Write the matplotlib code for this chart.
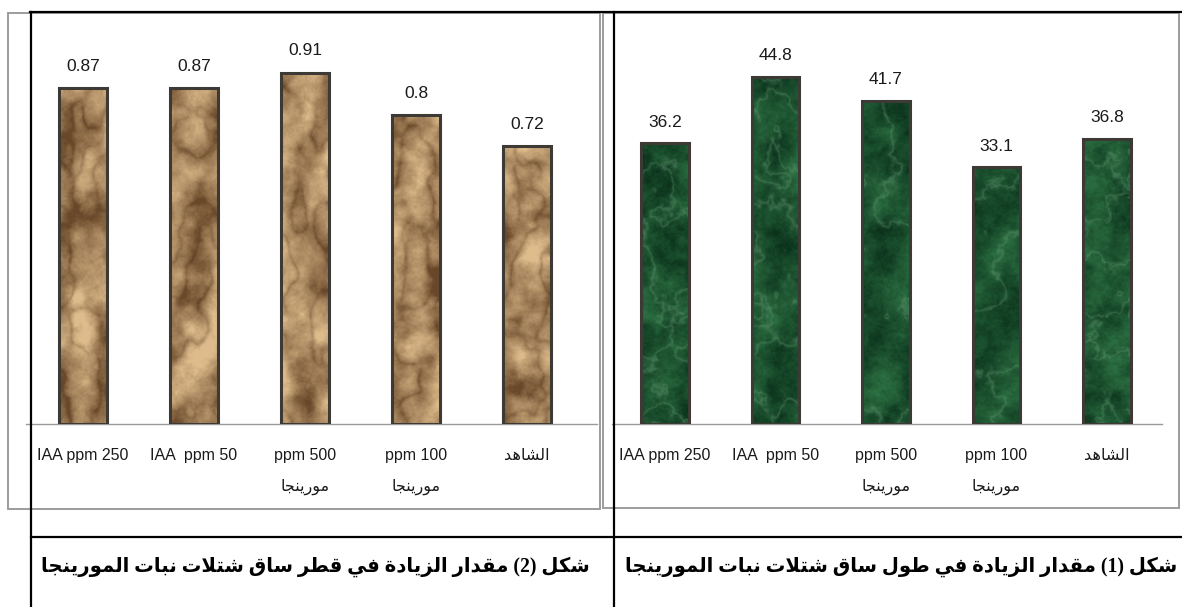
import numpy as np
import matplotlib
matplotlib.use("Agg")
import matplotlib.pyplot as plt
from matplotlib.patches import Rectangle
from matplotlib.lines import Line2D

# ---- data ----
categories = ["IAA ppm 250", "IAA  ppm 50", "ppm 500\nمورينجا", "ppm 100\nمورينجا", "الشاهد"]
diameter_gain = [0.87, 0.87, 0.91, 0.8, 0.72]      # shape (2): stem diameter
length_gain = [36.2, 44.8, 41.7, 33.1, 36.8]       # shape (1): stem length
title_left = "شكل (2) مقدار الزيادة في قطر ساق شتلات نبات المورينجا"
title_right = "شكل (1) مقدار الزيادة في طول ساق شتلات نبات المورينجا"

W, H = 1182, 607
LABEL_FONT = ["Liberation Sans Narrow", "Liberation Sans", "DejaVu Sans"]
SERIF_BOLD = ["Liberation Serif", "DejaVu Sans"]

# ---- minimal Arabic shaping (presentation forms B) + RTL ordering ----
FORMS = {
    "ا": ("\uFE8D", "\uFE8E", None, None),
    "ب": ("\uFE8F", "\uFE90", "\uFE91", "\uFE92"),
    "ة": ("\uFE93", "\uFE94", None, None),
    "ت": ("\uFE95", "\uFE96", "\uFE97", "\uFE98"),
    "ج": ("\uFE9D", "\uFE9E", "\uFE9F", "\uFEA0"),
    "د": ("\uFEA9", "\uFEAA", None, None),
    "ر": ("\uFEAD", "\uFEAE", None, None),
    "ز": ("\uFEAF", "\uFEB0", None, None),
    "س": ("\uFEB1", "\uFEB2", "\uFEB3", "\uFEB4"),
    "ش": ("\uFEB5", "\uFEB6", "\uFEB7", "\uFEB8"),
    "ط": ("\uFEC1", "\uFEC2", "\uFEC3", "\uFEC4"),
    "ف": ("\uFED1", "\uFED2", "\uFED3", "\uFED4"),
    "ق": ("\uFED5", "\uFED6", "\uFED7", "\uFED8"),
    "ك": ("\uFED9", "\uFEDA", "\uFEDB", "\uFEDC"),
    "ل": ("\uFEDD", "\uFEDE", "\uFEDF", "\uFEE0"),
    "م": ("\uFEE1", "\uFEE2", "\uFEE3", "\uFEE4"),
    "ن": ("\uFEE5", "\uFEE6", "\uFEE7", "\uFEE8"),
    "ه": ("\uFEE9", "\uFEEA", "\uFEEB", "\uFEEC"),
    "و": ("\uFEED", "\uFEEE", None, None),
    "ي": ("\uFEF1", "\uFEF2", "\uFEF3", "\uFEF4"),
}


def shape_word(word):
    tokens = []
    i = 0
    while i < len(word):
        if word[i] == "ل" and i + 1 < len(word) and word[i + 1] == "ا":
            tokens.append("LA")
            i += 2
        else:
            tokens.append(word[i])
            i += 1
    out = []
    for k, t in enumerate(tokens):
        prev = tokens[k - 1] if k > 0 else None
        nxt = tokens[k + 1] if k + 1 < len(tokens) else None
        joined_prev = prev in FORMS and FORMS[prev][2] is not None
        if t == "LA":
            out.append("\uFEFC" if joined_prev else "\uFEFB")
            continue
        if t not in FORMS:
            out.append(t)
            continue
        iso, fin, ini, med = FORMS[t]
        joined_next = ini is not None and (nxt == "LA" or nxt in FORMS)
        if joined_prev and joined_next:
            out.append(med)
        elif joined_prev:
            out.append(fin)
        elif joined_next:
            out.append(ini)
        else:
            out.append(iso)
    return "".join(reversed(out))


def is_arabic(s):
    return any("\u0600" <= c <= "\u06FF" for c in s)


def rtl(line):
    if not is_arabic(line):
        return line
    words = line.split(" ")
    return " ".join(shape_word(w) if is_arabic(w) else w for w in reversed(words))


def prep(label):
    return "\n".join(rtl(l) for l in label.split("\n"))


# ---- bar textures ----
def value_noise(rng, h, w, gh, gw):
    g = rng.random((gh + 1, gw + 1))
    yi = np.linspace(0, gh, h, endpoint=False)
    xi = np.linspace(0, gw, w, endpoint=False)
    y0 = np.floor(yi).astype(int)
    x0 = np.floor(xi).astype(int)
    ty = (yi - y0)[:, None]
    tx = (xi - x0)[None, :]
    ty = ty * ty * (3 - 2 * ty)
    tx = tx * tx * (3 - 2 * tx)
    a = g[np.ix_(y0, x0)]
    b = g[np.ix_(y0, x0 + 1)]
    c = g[np.ix_(y0 + 1, x0)]
    d = g[np.ix_(y0 + 1, x0 + 1)]
    return a * (1 - tx) * (1 - ty) + b * tx * (1 - ty) + c * (1 - tx) * ty + d * tx * ty


def fbm(rng, h, w, octaves=((6, 1), (12, 2), (24, 4), (48, 8), (96, 16)), gain=0.55):
    total = np.zeros((h, w))
    amp = 1.0
    for gh, gw in octaves:
        total += amp * value_noise(rng, h, w, gh, gw)
        amp *= gain
    total -= total.min()
    return total / total.max()


def paper_texture(rng, h=360, w=50):
    n = fbm(rng, h, w, ((8, 2), (16, 3), (32, 5), (64, 9), (128, 18)), 0.6)
    ridge = 1 - np.abs(2 * fbm(rng, h, w, ((7, 2), (14, 3), (28, 5))) - 1)
    grain = value_noise(rng, h, w, 180, 25)
    dark = np.array([105, 72, 42]) / 255
    light = np.array([222, 188, 140]) / 255
    t = np.clip(0.12 + 1.05 * n - 0.4 * ridge ** 4 + 0.12 * (grain - 0.5), 0, 1)[..., None]
    return dark * (1 - t) + light * t


def marble_texture(rng, h=360, w=50):
    n = fbm(rng, h, w, ((10, 2), (20, 3), (40, 6), (80, 12), (160, 22)), 0.65)
    ridge = 1 - np.abs(2 * fbm(rng, h, w) - 1)
    speck = value_noise(rng, h, w, 180, 25)
    dark = np.array([10, 48, 26]) / 255
    mid = np.array([44, 112, 66]) / 255
    vein = np.array([105, 160, 120]) / 255
    t = np.clip(n + 0.2 * (speck - 0.5), 0, 1)[..., None]
    col = dark * (1 - t) + mid * t
    v = (ridge ** 16)[..., None] * 0.45
    return np.clip(col * (1 - v) + vein * v, 0, 1)


def draw_panel(ax, values, texture_fn, seed, label_offset, ylim, xlim):
    rng = np.random.default_rng(seed)
    xs = np.arange(len(values))
    bw = 0.43
    bars = ax.bar(xs, values, width=bw, color="#8a7050", zorder=2)
    for bar, v in zip(bars, values):
        x0 = bar.get_x()
        im = ax.imshow(texture_fn(rng), extent=(x0, x0 + bw, 0, v),
                       aspect="auto", origin="upper", zorder=3, interpolation="bilinear")
        im.set_clip_path(bar)
    ax.bar(xs, values, width=bw, facecolor="none", edgecolor="#3d3a36",
           linewidth=2.2, zorder=4)
    for x, v in zip(xs, values):
        ax.annotate(f"{v}", (x, v), xytext=(0, label_offset), textcoords="offset pixels",
                    ha="center", va="center", fontsize=12.5, family=LABEL_FONT,
                    color="#1a1a1a")
    ax.set_xlim(*xlim)
    ax.set_ylim(*ylim)
    for side in ("top", "left", "right"):
        ax.spines[side].set_visible(False)
    ax.spines["bottom"].set_color("#9a9a9a")
    ax.spines["bottom"].set_linewidth(1.0)
    ax.set_yticks([])
    ax.set_xticks(xs)
    ax.set_xticklabels([prep(c) for c in categories], fontsize=11.5, family=LABEL_FONT,
                       linespacing=2.3, va="top", color="#1a1a1a")
    ax.tick_params(axis="x", length=0, pad=17)
    ax.patch.set_alpha(0)


fig = plt.figure(figsize=(W / 100, H / 100), dpi=100)


def fx(x):
    return x / W


def fy(y):
    return 1 - y / H


# gray chart frames
for x0, x1, y0, y1 in [(8, 600, 13, 509), (603, 1179, 13, 508)]:
    fig.patches.append(Rectangle((fx(x0), fy(y1)), fx(x1) - fx(x0), fy(y0) - fy(y1),
                                 transform=fig.transFigure, facecolor="none",
                                 edgecolor="#9c9c9c", linewidth=1.4, zorder=0))

# left panel: diameter (px/unit = 386, baseline at y=424, first bar centre at x=83)
ax_l = fig.add_axes([fx(26), fy(424), fx(597) - fx(26), fy(13) - fy(424)])
draw_panel(ax_l, diameter_gain, paper_texture, 7, 22, (0, 411 / 386.0),
           ((26 - 83) / 111.0, (597 - 83) / 111.0))

# right panel: length (px/unit = 7.75, first bar centre at x=665)
ax_r = fig.add_axes([fx(612), fy(424), fx(1162) - fx(612), fy(13) - fy(424)])
draw_panel(ax_r, length_gain, marble_texture, 11, 21, (0, 411 / 7.75),
           ((612 - 665) / 110.5, (1162 - 665) / 110.5))

# table rules
rules = [((30, 12), (1182, 12)), ((31, 12), (31, 607)), ((614, 12), (614, 607)),
         ((31, 537), (1182, 537))]
for (xa, ya), (xb, yb) in rules:
    fig.add_artist(Line2D([fx(xa), fx(xb)], [fy(ya), fy(yb)], transform=fig.transFigure,
                          color="black", linewidth=1.6, zorder=10))

# captions
fig.text(fx(590), fy(567), rtl(title_left), ha="right", va="center", fontsize=14.1,
         fontweight="bold", family=SERIF_BOLD)
fig.text(fx(1177), fy(567), rtl(title_right), ha="right", va="center", fontsize=14.1,
         fontweight="bold", family=SERIF_BOLD)

fig.savefig("out.png", dpi=100)
